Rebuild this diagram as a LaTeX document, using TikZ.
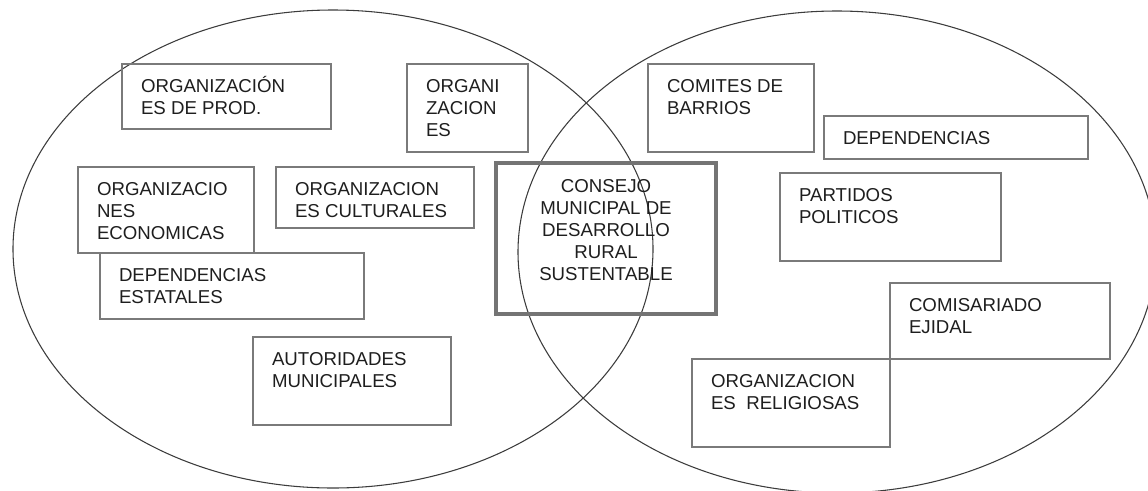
\documentclass[tikz,border=0pt]{standalone}
\usepackage{fontspec}
\setmainfont{Liberation Sans}
\definecolor{ellcol}{HTML}{3C3C3C}
\definecolor{boxcol}{HTML}{7A7A7A}
\definecolor{thickcol}{HTML}{747474}
\definecolor{txtcol}{HTML}{1E1E1E}
\tikzset{
  boxst/.style={draw=boxcol, line width=1.1pt, rectangle, anchor=north west, inner sep=0pt, outer sep=0pt},
  thickst/.style={draw=thickcol, line width=3pt, rectangle, anchor=north west, inner sep=0pt, outer sep=0pt},
  txt/.style={text=txtcol, font=\fontsize{14}{16.5}\selectfont, inner sep=0pt, outer sep=0pt, anchor=base west},
  ellst/.style={draw=ellcol, line width=0.8pt}
}
\newcommand\mybox[6]{%
  \node[boxst, minimum width={(#4-#2)*0.75pt}, minimum height={(#5-#3)*0.75pt}] (#1) at (#2,#3) {};
  \node[txt] (#1t) at ([shift={(19,28)}]#1.north west) {\vtop{#6}};}
\newcommand\ctrline[1]{\hbox to 0pt{\hss #1\hss}}
\begin{document}
\begin{tikzpicture}[x=0.75pt,y=-0.75pt]
\useasboundingbox (0,0) rectangle (1148,490);
\clip (0,0) rectangle (1148,490);
% ellipses
\draw[ellst] (333,249) ellipse [x radius=320, y radius=239];
\draw[ellst] (837,252) ellipse [x radius=319, y radius=241];
% left boxes
\mybox{b1}{122}{64}{331}{129}{\hbox{ORGANIZACIÓN}\hbox{ES DE PROD.}}
\mybox{b2}{407}{64}{528}{152}{\hbox{ORGANI}\hbox{ZACION}\hbox{ES}}
\mybox{b3}{78}{167}{254}{253}{\hbox{ORGANIZACIO}\hbox{NES}\hbox{ECONOMICAS}}
\mybox{b4}{276}{167}{474}{228}{\hbox{ORGANIZACION}\hbox{ES CULTURALES}}
\mybox{b5}{100}{253}{364}{319}{\hbox{DEPENDENCIAS}\hbox{ESTATALES}}
\mybox{b6}{253}{337}{451}{425}{\hbox{AUTORIDADES}\hbox{MUNICIPALES}}
% right boxes
\mybox{b7}{648}{64}{814}{152}{\hbox{COMITES DE}\hbox{BARRIOS}}
\mybox{b8}{824}{116}{1088}{159}{\hbox{DEPENDENCIAS}}
\mybox{b9}{780}{173}{1001}{261}{\hbox{PARTIDOS}\hbox{POLITICOS}}
\mybox{b10}{890}{283}{1110}{359}{\hbox{COMISARIADO}\hbox{EJIDAL}}
\mybox{b11}{692}{359}{890}{447}{\hbox{ORGANIZACION}\hbox{ES\ \ RELIGIOSAS}}
% central box
\node[thickst, minimum width={(716-496)*0.75pt}, minimum height={(314-163)*0.75pt}] (c) at (496,163) {};
\node[txt, anchor=base] (ct) at ([shift={(0,29)}]c.north) {\vtop{\ctrline{CONSEJO}\ctrline{MUNICIPAL DE}\ctrline{DESARROLLO}\ctrline{RURAL}\ctrline{SUSTENTABLE}}};
\end{tikzpicture}
\end{document}
